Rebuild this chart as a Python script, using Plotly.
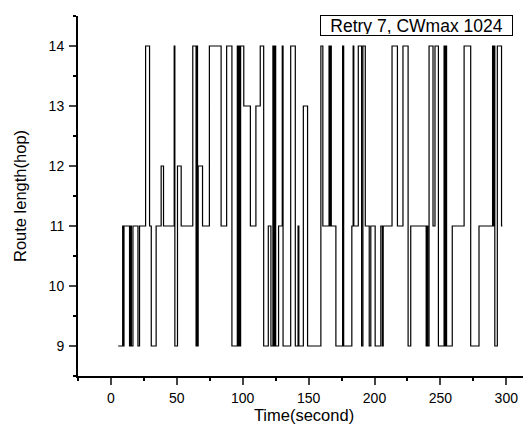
import plotly.graph_objects as go

# change points of the route-length step curve (time in s, hop count)
times = [5.5, 8.9, 9.4, 9.9, 14.1, 15.0, 15.5, 16.7, 20.5, 21.7, 26.3, 29.3, 30.6, 34.3,
         38.1, 39.9, 48.0, 48.5, 50.5, 53.3, 62.1, 64.6, 65.2, 65.7, 66.2, 69.5, 74.7,
         83.6, 87.8, 91.8, 95.9, 96.5, 97.2, 97.8, 98.4, 100.8, 105.8, 110.0, 113.3,
         115.9, 119.4, 121.4, 122.9, 123.6, 124.4, 125.0, 127.2, 130.0, 130.6, 136.4,
         139.9, 142.0, 142.6, 146.0, 149.2, 159.3, 160.8, 165.5, 166.2, 166.6, 167.2,
         170.7, 175.8, 176.6, 182.8, 183.8, 184.3, 187.7, 190.2, 191.2, 193.0, 196.0,
         197.2, 200.5, 204.8, 206.0, 206.6, 213.3, 217.4, 221.6, 225.5, 227.5, 239.2,
         239.8, 240.4, 241.4, 244.4, 245.9, 248.5, 252.8, 253.4, 254.1, 254.7, 259.0,
         268.0, 273.0, 279.3, 289.6, 290.2, 290.8, 291.3, 293.2, 296.4, 297.0]
hops = [9, 11, 9, 11, 9, 11, 9, 11, 9, 11, 14, 11, 9, 11,
        12, 11, 14, 9, 12, 11, 14, 9, 14, 9, 12, 11, 14,
        11, 14, 9, 14, 9, 14, 9, 14, 13, 11, 13, 14,
        9, 11, 9, 14, 9, 14, 9, 11, 14, 9, 14,
        9, 11, 9, 13, 9, 14, 11, 14, 11, 14, 11,
        9, 14, 9, 11, 14, 11, 14, 9, 14, 11, 9,
        11, 9, 11, 9, 11, 14, 11, 14, 9, 11, 9,
        11, 9, 14, 11, 14, 9, 14, 9, 14, 9, 11,
        14, 9, 11, 14, 11, 14, 9, 14, 11, 11]

x_ticks = [0, 50, 100, 150, 200, 250, 300]
y_ticks = [9, 10, 11, 12, 13, 14]
legend_text = "Retry 7, CWmax 1024"

FONT = "Arial, Liberation Sans, sans-serif"

fig = go.Figure()
fig.add_trace(go.Scatter(x=times, y=hops, mode="lines", line_shape="hv",
                         line=dict(color="black", width=1.2), showlegend=False))

fig.update_layout(
    width=531, height=425,
    margin=dict(l=70, r=9, t=8, b=57),
    paper_bgcolor="white", plot_bgcolor="white",
    font=dict(family=FONT, size=14, color="black"),
    xaxis=dict(range=[-25, 318], tickvals=x_ticks, ticks="outside", ticklen=7,
               tickwidth=2, showline=True, linewidth=2, linecolor="black",
               showgrid=False, zeroline=False, ticklabelstandoff=1,
               minor=dict(ticks="outside", ticklen=3, dtick=25, tick0=0,
                          tickcolor="black", tickwidth=1.5),
               title=dict(text="Time(second)", font=dict(size=16.5), standoff=5),
               tickfont=dict(size=14)),
    yaxis=dict(range=[8.5, 14.5], tickvals=y_ticks, ticks="outside", ticklen=7,
               tickwidth=2, showline=True, linewidth=2, linecolor="black",
               showgrid=False, zeroline=False, ticklabelstandoff=2,
               minor=dict(ticks="outside", ticklen=3, dtick=0.5, tick0=8.5,
                          tickcolor="black", tickwidth=1.5),
               title=dict(text="Route length(hop)", font=dict(size=16.5), standoff=18),
               tickfont=dict(size=14)),
    annotations=[dict(text=legend_text, xref="paper", yref="paper",
                      x=0.749, y=0.975, xanchor="center", yanchor="middle",
                      showarrow=False, font=dict(size=17.5, family=FONT),
                      bordercolor="black", borderwidth=1, borderpad=1,
                      width=189, height=17, bgcolor="white")],
)

fig.write_html("out.html")
